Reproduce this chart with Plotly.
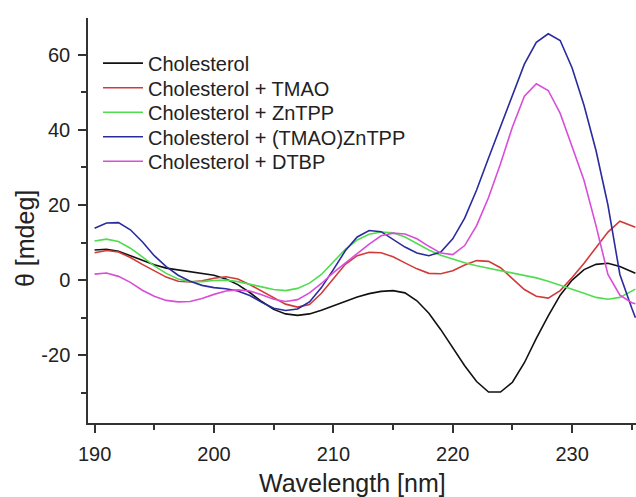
import plotly.graph_objects as go

wavelength = list(range(190, 236)) + [235.3]

cholesterol = [8.0, 8.2, 7.7, 6.5, 5.3, 4.1, 3.2, 2.7, 2.3, 1.9,
               1.3, 0.3, -1.2, -3.3, -5.7, -7.8, -9.0, -9.4, -9.0, -8.0,
               -6.8, -5.6, -4.5, -3.6, -3.0, -2.8, -3.4, -5.5, -8.8, -13.2,
               -18.0, -22.8, -27.0, -29.8, -29.8, -27.2, -22.0, -15.5, -9.5, -4.0,
               0.0, 2.8, 4.2, 4.5, 3.6, 2.2, 1.8]

tmao = [7.3, 7.9, 7.5, 6.0, 4.2, 2.4, 0.8, -0.3, -0.5, -0.2,
        0.5, 0.9, 0.3, -1.2, -3.0, -4.8, -6.4, -7.2, -6.5, -3.5,
        0.5, 4.2, 6.5, 7.4, 7.3, 6.2, 4.6, 3.0, 1.8, 1.7,
        2.5, 4.0, 5.2, 5.0, 3.3, 0.5, -2.5, -4.3, -4.8, -2.8,
        0.7, 4.5, 8.5, 12.8, 15.7, 14.6, 14.1]

zntpp = [10.4, 10.9, 10.3, 8.5, 6.2, 3.8, 1.8, 0.3, -0.4, -0.4,
         -0.1, 0.0, -0.4, -1.0, -1.8, -2.5, -2.8, -2.2, -0.8, 1.5,
         4.8, 8.2, 10.7, 12.2, 12.8, 12.6, 11.5, 9.8, 8.0, 6.6,
         5.5, 4.6, 3.8, 3.2, 2.6, 2.0, 1.3, 0.6, -0.3, -1.3,
         -2.4, -3.5, -4.6, -5.1, -4.6, -3.0, -2.4]

tmao_zntpp = [13.8, 15.2, 15.3, 13.4, 10.2, 6.5, 3.6, 1.3, -0.3, -1.4,
              -2.0, -2.3, -2.9, -4.1, -5.9, -7.5, -8.1, -7.7, -5.8, -2.0,
              2.8, 7.8, 11.5, 13.2, 12.9, 10.9, 8.8, 7.2, 6.5, 7.5,
              11.0, 16.5, 24.0, 32.5, 41.0, 49.5, 57.5, 63.3, 65.6, 63.8,
              56.5, 46.5, 34.5, 20.0, 1.5, -7.5, -10.0]

dtbp = [1.6, 1.9, 1.0, -0.6, -2.7, -4.3, -5.4, -5.8, -5.7, -4.9,
        -3.8, -2.9, -2.6, -2.9, -3.9, -5.1, -5.7, -5.2, -3.4, -0.9,
        2.0, 4.6, 7.0, 9.6, 11.8, 12.5, 12.3, 11.0, 9.0, 7.2,
        6.8, 9.2, 14.5, 22.0, 31.0, 40.8, 49.0, 52.3, 50.5, 44.4,
        35.5, 26.5, 14.5, 1.5, -4.0, -6.0, -6.3]

series_names = ["Cholesterol", "Cholesterol + TMAO", "Cholesterol + ZnTPP",
                "Cholesterol + (TMAO)ZnTPP", "Cholesterol + DTBP"]
series_values = [cholesterol, tmao, zntpp, tmao_zntpp, dtbp]
series_colors = ["#111111", "#d23a3a", "#4fdc4f", "#2b2b9e", "#d84ed8"]

x_tickvals = [190, 200, 210, 220, 230]
x_ticktext = ["190", "200", "210", "220", "230"]
y_tickvals = [-20, 0, 20, 40, 60]
y_ticktext = ["-20", "0", "20", "40", "60"]

FONT = "Arial, Liberation Sans, sans-serif"

# figure geometry (page body margin removed by post_script)
W, H = 636, 497
ML, MT, MB = 88, 18, 74
PW, PH = W - ML, H - MT - MB

legend_ids = ["legend", "legend2", "legend3", "legend4", "legend5"]
row_centers = [63.3, 88.0, 112.5, 137.0, 161.5]  # px from top of figure

fig = go.Figure()
for name, vals, col, lid in zip(series_names, series_values, series_colors, legend_ids):
    fig.add_trace(go.Scatter(x=wavelength, y=vals, mode="lines", name=name,
                             legend=lid, line=dict(color=col, width=1.6)))

axis_common = dict(showgrid=False, zeroline=False, showline=True,
                   linecolor="#333333", linewidth=1.5, ticks="outside",
                   tickcolor="#333333", tickwidth=1.5, ticklen=8,
                   tickfont=dict(family=FONT, size=20, color="#222222"))

fig.update_xaxes(range=[189.45, 235.35], tickvals=x_tickvals, ticktext=x_ticktext,
                 minor=dict(dtick=5, tick0=190, ticks="outside", ticklen=5,
                            tickcolor="#333333", tickwidth=1.5),
                 ticklabelstandoff=4, **axis_common)
fig.update_yaxes(range=[-38.05, 69.8], tickvals=y_tickvals, ticktext=y_ticktext,
                 minor=dict(dtick=10, tick0=0, ticks="outside", ticklen=5,
                            tickcolor="#333333", tickwidth=1.5),
                 ticklabelstandoff=4, **axis_common)

legend_layout = {}
for lid, yc in zip(legend_ids, row_centers):
    top = yc - 19.7 - MT
    legend_layout[lid] = dict(x=(98 - ML) / PW, y=1 - top / PH,
                              xanchor="left", yanchor="top",
                              bgcolor="rgba(0,0,0,0)", borderwidth=0,
                              font=dict(family=FONT, size=20, color="#222222"),
                              itemwidth=40)

fig.update_layout(
    width=W, height=H,
    margin=dict(l=ML, r=0, t=MT, b=MB, autoexpand=False),
    paper_bgcolor="white", plot_bgcolor="white",
    showlegend=True,
    annotations=[
        dict(text="Wavelength [nm]", xref="paper", yref="paper",
             x=(352.5 - ML) / PW, y=-(483 - (MT + PH)) / PH,
             xanchor="center", yanchor="middle", showarrow=False,
             font=dict(family=FONT, size=25, color="#222222")),
        dict(text="θ [mdeg]", xref="paper", yref="paper",
             x=-(ML - 25) / PW, y=(MT + PH - 239) / PH, textangle=-90,
             xanchor="center", yanchor="middle", showarrow=False,
             font=dict(family=FONT, size=25, color="#222222")),
    ],
    **legend_layout,
)

fig.write_html(
    "out.html",
    config={"displayModeBar": False},
    post_script="document.documentElement.style.margin='0';"
                "document.documentElement.style.overflow='hidden';"
                "document.body.style.margin='0';"
                "document.body.style.overflow='hidden';",
)
